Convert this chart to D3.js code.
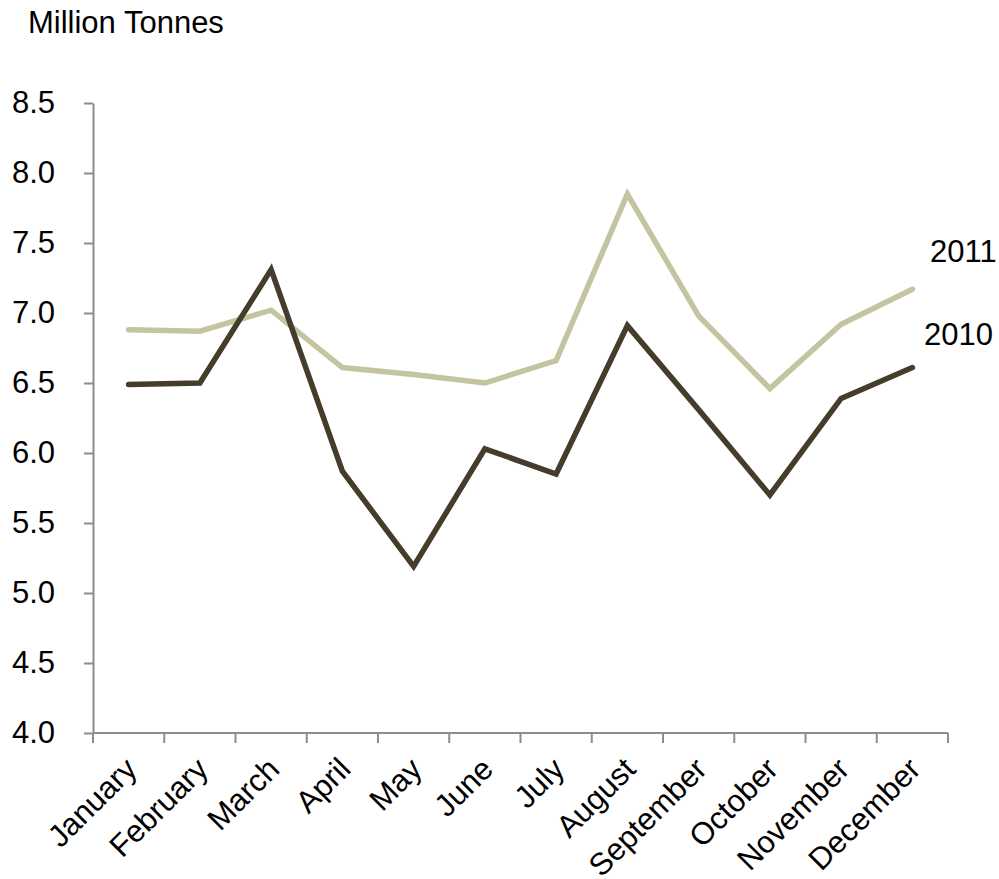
<!DOCTYPE html>
<html>
<head>
<meta charset="utf-8">
<script src="https://cdn.jsdelivr.net/npm/d3@7"></script>
<style>
  body { margin: 0; background: #fff; }
  text { font-family: "Liberation Sans", Arial, sans-serif; fill: #000; }
</style>
</head>
<body>
<svg width="999" height="879"></svg>
<script>
const months = ["January", "February", "March", "April", "May", "June",
    "July", "August", "September", "October", "November", "December"];
const values2010 = [6.49, 6.50, 7.31, 5.87, 5.19, 6.03, 5.85, 6.91, 6.31, 5.70, 6.39, 6.61];
const values2011 = [6.88, 6.87, 7.02, 6.61, 6.56, 6.50, 6.66, 7.85, 6.98, 6.46, 6.92, 7.17];
const yTicks = [4.0, 4.5, 5.0, 5.5, 6.0, 6.5, 7.0, 7.5, 8.0, 8.5];

const svg = d3.select("svg");
const plotLeft = 93, plotRight = 948, plotTop = 103, plotBottom = 733;
const axisColor = "#8c8c8c";
const fontSize = 31;

const x = d3.scaleBand().domain(months).range([plotLeft, plotRight]);
const y = d3.scaleLinear().domain([4, 8.5]).range([plotBottom, plotTop]);

// y axis
const yAxis = svg.append("g")
    .attr("transform", `translate(${plotLeft},0)`)
    .call(d3.axisLeft(y).tickValues(yTicks).tickFormat(d3.format(".1f")).tickSize(9).tickSizeOuter(0));
yAxis.select(".domain").attr("stroke", axisColor).attr("stroke-width", 2);
yAxis.selectAll(".tick line").attr("stroke", axisColor).attr("stroke-width", 2);
yAxis.selectAll(".tick text")
    .attr("x", -38)
    .attr("font-size", fontSize)
    .attr("font-family", "Liberation Sans, Arial, sans-serif")
    .attr("fill", "#000");

// x axis
const xAxis = svg.append("g")
    .attr("transform", `translate(0,${plotBottom})`);
xAxis.append("line")
    .attr("x1", plotLeft).attr("x2", plotRight)
    .attr("stroke", axisColor).attr("stroke-width", 2);
const edges = months.map(m => x(m)).concat([plotRight]);
xAxis.selectAll(".xt").data(edges).enter().append("line")
    .attr("x1", d => d).attr("x2", d => d)
    .attr("y1", 0).attr("y2", 10)
    .attr("stroke", axisColor).attr("stroke-width", 2);
xAxis.selectAll(".xl").data(months).enter().append("text")
    .attr("transform", d => `translate(${x(d) + x.bandwidth() / 2 + 10},${38}) rotate(-45)`)
    .attr("text-anchor", "end")
    .attr("font-size", fontSize)
    .text(d => d);

// lines
const line = d3.line()
    .x((d, i) => x(months[i]) + x.bandwidth() / 2)
    .y(d => y(d));

svg.append("path")
    .datum(values2011)
    .attr("fill", "none")
    .attr("stroke", "#c4c4a0")
    .attr("stroke-width", 5.5)
    .attr("stroke-linecap", "round")
    .attr("d", line);

svg.append("path")
    .datum(values2010)
    .attr("fill", "none")
    .attr("stroke", "#463c2c")
    .attr("stroke-width", 5.5)
    .attr("stroke-linecap", "round")
    .attr("d", line);

// labels
svg.append("text").attr("x", 28).attr("y", 33).attr("font-size", fontSize).text("Million Tonnes");
svg.append("text").attr("x", 930).attr("y", 262).attr("font-size", fontSize).text("2011");
svg.append("text").attr("x", 924).attr("y", 345).attr("font-size", fontSize).text("2010");
</script>
</body>
</html>
